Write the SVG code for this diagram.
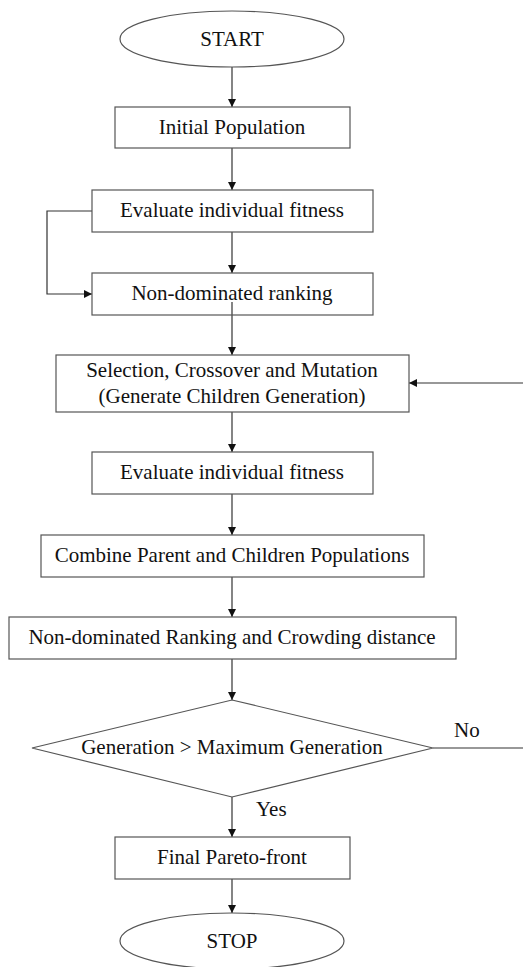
<svg xmlns="http://www.w3.org/2000/svg" width="523" height="967" viewBox="0 0 523 967" font-family="Liberation Serif" font-size="21">
<style>
.n{fill:#fff;stroke:#555;stroke-width:1.2}
.t{fill:#111;text-anchor:middle}
.l{fill:#111}
.c{fill:none;stroke:#333;stroke-width:1.2}
</style>
<defs>
<marker id="a" viewBox="0 0 10 10" refX="10" refY="5" markerWidth="9" markerHeight="8" markerUnits="userSpaceOnUse" orient="auto">
<path d="M0,0 L10,5 L0,10 Z" fill="#111"/>
</marker>
</defs>
<rect width="523" height="967" fill="#fff"/>
<g id="connectors">
<line class="c" x1="232" y1="67" x2="232" y2="107" marker-end="url(#a)"/>
<line class="c" x1="232" y1="148" x2="232" y2="190" marker-end="url(#a)"/>
<line class="c" x1="232" y1="232" x2="232" y2="273" marker-end="url(#a)"/>
<polyline class="c" points="92,211 47,211 47,294 92,294" marker-end="url(#a)"/>
<line class="c" x1="232" y1="302" x2="232" y2="355" marker-end="url(#a)"/>
<line class="c" x1="523" y1="383" x2="409" y2="383" marker-end="url(#a)"/>
<line class="c" x1="232" y1="412" x2="232" y2="452" marker-end="url(#a)"/>
<line class="c" x1="232" y1="494" x2="232" y2="535" marker-end="url(#a)"/>
<line class="c" x1="232" y1="577" x2="232" y2="617" marker-end="url(#a)"/>
<line class="c" x1="232" y1="659" x2="232" y2="700" marker-end="url(#a)"/>
<line class="c" x1="433" y1="748" x2="523" y2="748"/>
<line class="c" x1="232" y1="797" x2="232" y2="837" marker-end="url(#a)"/>
<line class="c" x1="232" y1="879" x2="232" y2="913" marker-end="url(#a)"/>
<text class="l" x="454" y="737">No</text>
<text class="l" x="256" y="816">Yes</text>
</g>
<g id="start">
<ellipse class="n" cx="232" cy="39" rx="112" ry="28"/>
<text class="t" x="232" y="46">START</text>
</g>
<g id="init">
<rect class="n" x="115" y="107" width="235" height="41"/>
<text class="t" x="232" y="134">Initial Population</text>
</g>
<g id="eval1">
<rect class="n" x="92" y="190" width="281" height="42"/>
<text class="t" x="232" y="217">Evaluate individual fitness</text>
</g>
<g id="rank1">
<rect class="n" x="92" y="273" width="281" height="42" fill-opacity="0"/>
<text class="t" x="232" y="300">Non-dominated ranking</text>
</g>
<g id="select">
<rect class="n" x="56" y="355" width="353" height="57"/>
<text class="t" x="232" y="377">Selection, Crossover and Mutation</text>
<text class="t" x="232" y="403">(Generate Children Generation)</text>
</g>
<g id="eval2">
<rect class="n" x="92" y="452" width="281" height="42"/>
<text class="t" x="232" y="479">Evaluate individual fitness</text>
</g>
<g id="combine">
<rect class="n" x="41" y="535" width="383" height="42"/>
<text class="t" x="232" y="562">Combine Parent and Children Populations</text>
</g>
<g id="rank2">
<rect class="n" x="9" y="617" width="447" height="42"/>
<text class="t" x="232" y="644">Non-dominated Ranking and Crowding distance</text>
</g>
<g id="decision">
<polygon class="n" points="232,700 433,748 232,797 32,748"/>
<text class="t" x="232" y="754">Generation &gt; Maximum Generation</text>
</g>
<g id="final">
<rect class="n" x="115" y="837" width="235" height="42"/>
<text class="t" x="232" y="864">Final Pareto-front</text>
</g>
<g id="stop">
<ellipse class="n" cx="232" cy="941" rx="112" ry="28"/>
<text class="t" x="232" y="948">STOP</text>
</g>
</svg>
